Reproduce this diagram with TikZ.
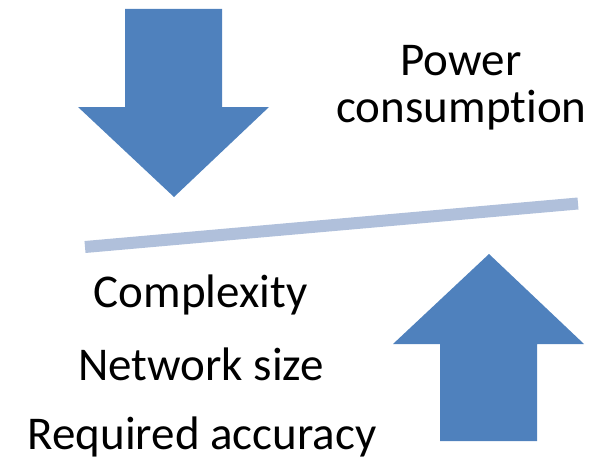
\documentclass[tikz,border=0pt]{standalone}
\usepackage{fontspec}
\setmainfont[Ligatures=NoCommon]{Carlito}
\definecolor{arrowblue}{HTML}{4F81BD}
\definecolor{beamblue}{HTML}{B0C0DB}
\begin{document}
\begin{tikzpicture}[x=1pt,y=-1pt,
  bigarrow/.style={fill=arrowblue,draw=none},
  beam/.style={draw=beamblue,line width=12pt},
  lbl/.style={anchor=base,inner sep=0pt,font=\fontsize{47}{56}\selectfont}]
\useasboundingbox (0,0) rectangle (600,460);
% down arrow
\fill[bigarrow] (125,9) -- (222,9) -- (222,107) -- (269,107) -- (174,197) -- (78,107) -- (125,107) -- cycle;
% up arrow
\fill[bigarrow] (489,254) -- (584,344) -- (537,344) -- (537,441) -- (440,441) -- (440,344) -- (393,344) -- cycle;
% beam
\coordinate (bl) at (85,247);
\coordinate (br) at (578,203.5);
\draw[beam] (bl) -- (br);
% labels
\node[lbl] (power) at (461,75) {Power};
\node[lbl] (cons) at (461.5,122) {consumption};
\node[lbl] (cplx) at (200.5,307) {Complexity};
\node[lbl] (net) at (201,380) {Network size};
\node[lbl] (acc) at (202,449) {Required accuracy};
\end{tikzpicture}
\end{document}
